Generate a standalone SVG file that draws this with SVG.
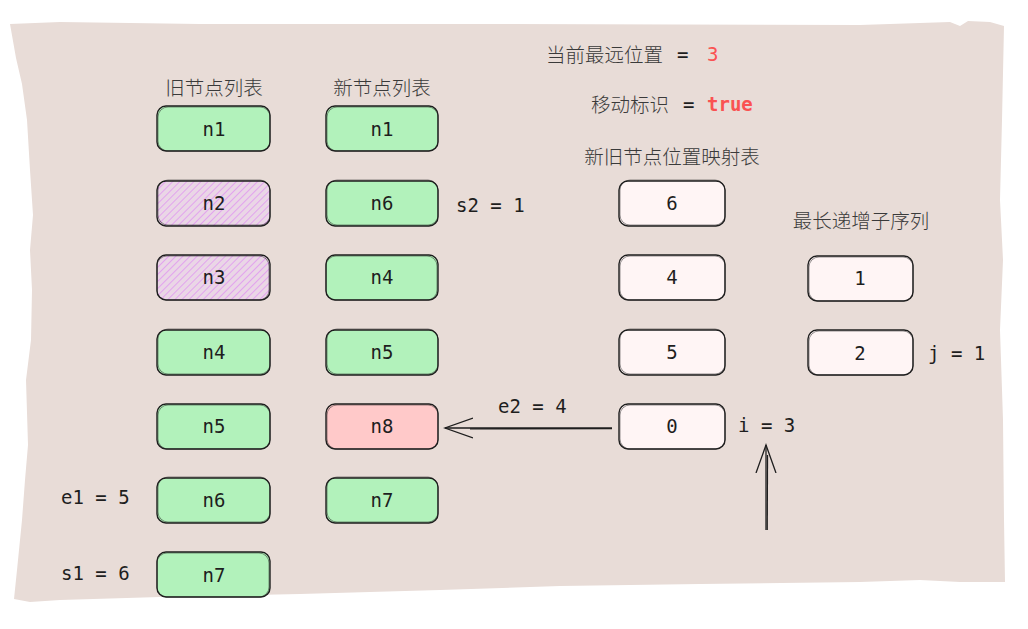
<svg xmlns="http://www.w3.org/2000/svg" width="1028" height="629" viewBox="0 0 1028 629">
<defs>
<pattern id="hatch" width="5" height="5" patternUnits="userSpaceOnUse" patternTransform="rotate(45)">
<rect width="5" height="5" fill="#ead6e6"/>
<line x1="0" y1="0" x2="0" y2="5" stroke="#e196f0" stroke-width="1.6"/>
</pattern>
<marker id="arr2" viewBox="0 0 30 24" refX="28" refY="12" markerWidth="30" markerHeight="24" markerUnits="userSpaceOnUse" orient="auto">
<path d="M0,2 L28,12 L0,22" fill="none" stroke="#1e1e1e" stroke-width="1.3"/>
</marker>
</defs>
<style>
.box{stroke:#1e1e1e;stroke-width:1.4}
.box2{fill:none;stroke:#1e1e1e;stroke-width:0.8;opacity:0.6}
.green{fill:#b2f2bb}
.red{fill:#ffc9c9}
.white{fill:#fff5f5}
.hat{fill:url(#hatch)}
.mono{font-family:"DejaVu Sans Mono","Liberation Mono",monospace;font-size:19px;fill:#1e1e1e}
.cn{font-family:"Noto Sans CJK SC","Noto Sans",sans-serif;font-size:19.5px;font-weight:300;fill:#3a3a3a}
.hl{fill:#fa5252}
.ln{fill:none;stroke:#1e1e1e;stroke-width:1.3}
</style>
<path id="paper" d="M10,24 L60,22 L200,24 L500,24 L860,25 L950,22 L960,26 L968,21 L990,22 L1004,26 L1002,120 L1000,200 L1003,260 L1000,330 L1003,420 L1004,520 L1005,582 L960,582 L920,580 L860,582 L700,584 L560,586 L440,590 L300,594 L160,597 L60,600 L30,602 L14,599 L17,570 L22,520 L25,480 L28,445 L26,380 L31,340 L32,290 L30,250 L33,215 L30,170 L27,120 L22,84 L16,58 Z" fill="#e8dcd7"/>

<text class="cn" x="214" y="95" text-anchor="middle">旧节点列表</text>
<text class="cn" x="382" y="95" text-anchor="middle">新节点列表</text>
<text class="cn" x="546" y="62">当前最远位置</text>
<text class="mono" x="677" y="61">=</text>
<text class="mono hl" x="707" y="61">3</text>
<text class="cn" x="591" y="112">移动标识</text>
<text class="mono" x="683" y="111">=</text>
<text class="mono hl" x="707" y="111" font-weight="bold">true</text>
<text class="cn" x="672" y="164" text-anchor="middle">新旧节点位置映射表</text>
<text class="cn" x="861" y="228" text-anchor="middle">最长递增子序列</text>

<g id="old-n1"><rect class="box green" x="157" y="106" width="113" height="45" rx="9"/><rect class="box2" x="158" y="107" width="112" height="44" rx="10"/><text class="mono" x="214" y="136" text-anchor="middle">n1</text></g>
<g id="old-n2"><rect class="box hat" x="157" y="181" width="113" height="45" rx="9"/><rect class="box2" x="158" y="180" width="112" height="45" rx="10"/><text class="mono" x="214" y="210" text-anchor="middle">n2</text></g>
<g id="old-n3"><rect class="box hat" x="157" y="255" width="113" height="45" rx="9"/><rect class="box2" x="157" y="256" width="112" height="44" rx="10"/><text class="mono" x="214" y="284" text-anchor="middle">n3</text></g>
<g id="old-n4"><rect class="box green" x="157" y="330" width="113" height="45" rx="9"/><rect class="box2" x="158" y="329" width="112" height="45" rx="10"/><text class="mono" x="214" y="359" text-anchor="middle">n4</text></g>
<g id="old-n5"><rect class="box green" x="157" y="404" width="113" height="45" rx="9"/><rect class="box2" x="158" y="405" width="112" height="44" rx="10"/><text class="mono" x="214" y="433" text-anchor="middle">n5</text></g>
<g id="old-n6"><rect class="box green" x="157" y="478" width="113" height="45" rx="9"/><rect class="box2" x="158" y="477" width="112" height="45" rx="10"/><text class="mono" x="214" y="507" text-anchor="middle">n6</text></g>
<g id="old-n7"><rect class="box green" x="157" y="552" width="113" height="45" rx="9"/><rect class="box2" x="157" y="553" width="112" height="44" rx="10"/><text class="mono" x="214" y="582" text-anchor="middle">n7</text></g>

<g id="new-n1"><rect class="box green" x="326" y="106" width="112" height="45" rx="9"/><rect class="box2" x="327" y="107" width="111" height="44" rx="10"/><text class="mono" x="382" y="136" text-anchor="middle">n1</text></g>
<g id="new-n6"><rect class="box green" x="326" y="181" width="112" height="45" rx="9"/><rect class="box2" x="327" y="180" width="111" height="45" rx="10"/><text class="mono" x="382" y="210" text-anchor="middle">n6</text></g>
<g id="new-n4"><rect class="box green" x="326" y="255" width="112" height="45" rx="9"/><rect class="box2" x="326" y="256" width="111" height="44" rx="10"/><text class="mono" x="382" y="284" text-anchor="middle">n4</text></g>
<g id="new-n5"><rect class="box green" x="326" y="330" width="112" height="45" rx="9"/><rect class="box2" x="327" y="329" width="111" height="45" rx="10"/><text class="mono" x="382" y="359" text-anchor="middle">n5</text></g>
<g id="new-n8"><rect class="box red" x="326" y="404" width="112" height="45" rx="9"/><rect class="box2" x="327" y="405" width="111" height="44" rx="10"/><text class="mono" x="382" y="433" text-anchor="middle">n8</text></g>
<g id="new-n7"><rect class="box green" x="326" y="478" width="112" height="45" rx="9"/><rect class="box2" x="327" y="477" width="111" height="45" rx="10"/><text class="mono" x="382" y="507" text-anchor="middle">n7</text></g>

<g id="map-6"><rect class="box white" x="619" y="181" width="106" height="45" rx="9"/><rect class="box2" x="620" y="180" width="105" height="45" rx="10"/><text class="mono" x="672" y="210" text-anchor="middle">6</text></g>
<g id="map-4"><rect class="box white" x="619" y="255" width="106" height="45" rx="9"/><rect class="box2" x="620" y="256" width="105" height="44" rx="10"/><text class="mono" x="672" y="284" text-anchor="middle">4</text></g>
<g id="map-5"><rect class="box white" x="619" y="330" width="106" height="45" rx="9"/><rect class="box2" x="620" y="329" width="105" height="45" rx="10"/><text class="mono" x="672" y="359" text-anchor="middle">5</text></g>
<g id="map-0"><rect class="box white" x="619" y="404" width="106" height="45" rx="9"/><rect class="box2" x="620" y="405" width="105" height="44" rx="10"/><text class="mono" x="672" y="433" text-anchor="middle">0</text></g>

<g id="lis-1"><rect class="box white" x="808" y="256" width="105" height="45" rx="9"/><rect class="box2" x="809" y="257" width="104" height="44" rx="10"/><text class="mono" x="860" y="285" text-anchor="middle">1</text></g>
<g id="lis-2"><rect class="box white" x="808" y="330" width="105" height="45" rx="9"/><rect class="box2" x="809" y="331" width="104" height="44" rx="10"/><text class="mono" x="860" y="360" text-anchor="middle">2</text></g>

<text class="mono" x="456" y="212">s2 = 1</text>
<text class="mono" x="498" y="413">e2 = 4</text>
<text class="mono" x="738" y="432">i = 3</text>
<text class="mono" x="928" y="360">j = 1</text>
<text class="mono" x="61" y="504">e1 = 5</text>
<text class="mono" x="61" y="580">s1 = 6</text>

<g id="connectors">
<path class="ln" d="M612,428 L445,428" marker-end="url(#arr2)"/>
<path class="ln" d="M612,428.6 L470,428.8"/>
<path class="ln" d="M766,530 L766,445" marker-end="url(#arr2)"/>
<path class="ln" d="M767.2,530 L767.5,455"/>
</g>
</svg>
